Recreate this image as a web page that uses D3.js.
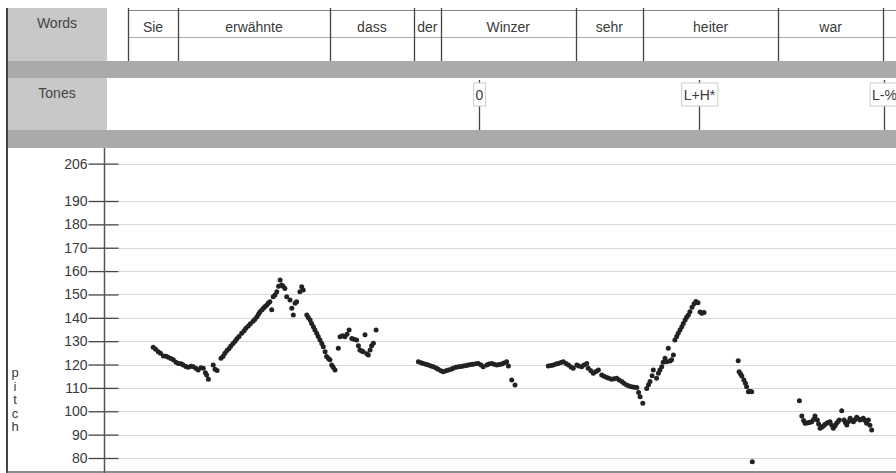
<!DOCTYPE html>
<html>
<head>
<meta charset="utf-8">
<script src="https://cdn.jsdelivr.net/npm/d3@7"></script>
<style>
  body { margin: 0; background: #fff; }
  svg { display: block; font-family: "Liberation Sans", Arial, sans-serif; }
</style>
</head>
<body>
<div id="chart"></div>
<script>
// word tier (times in ms)
const words = ["Sie", "erwähnte", "dass", "der", "Winzer", "sehr", "heiter", "war"];
const wordBounds = [80, 247, 753, 1033, 1123, 1572, 1797, 2247, 2597];

// tone tier
const tones = ["0", "L+H*", "L-%"];
const toneTimes = [1249, 1983, 2599];

const pitchTicks = [206, 190, 180, 170, 160, 150, 140, 130, 120, 110, 100, 90, 80];

// pitch track, one array per voiced stretch: [time ms, Hz]
const voicedA = [
  [164, 127.4], [172, 126.6], [181, 125.5], [188, 124.8], [198, 123.7], [207, 123.5],
  [214, 123.1], [223, 122.6], [231, 122], [240, 121], [248, 120.5], [257, 120.3],
  [264, 119.8], [273, 119.2], [281, 118.8], [290, 119.3], [298, 119.1], [307, 118.3],
  [314, 117.7], [323, 118.6], [331, 118.4], [338, 116.5], [342, 115.5], [348, 113.7],
  [364, 119.8], [370, 118], [377, 117.5],
  [390, 122.7], [397, 123.6], [403, 124.8], [410, 126], [417, 126.9], [423, 127.9],
  [430, 129], [437, 130], [443, 131], [450, 132], [459, 133.4], [467, 134.5],
  [473, 135.5], [481, 136.5], [488, 137.5], [497, 138.5], [503, 139.4], [510, 140.5],
  [515, 141.5], [520, 142.6], [527, 143.4], [532, 144.2], [537, 144.8], [543, 145.5],
  [548, 146.3], [553, 146.9], [559, 143.4], [564, 149], [570, 149.8], [576, 151.2],
  [582, 153.5], [587, 156.2], [592, 154], [597, 153.5], [603, 152.6], [609, 149],
  [620, 147.6], [626, 144.1], [631, 141.2], [637, 146.2], [642, 146.9], [653, 151.2],
  [659, 153.3], [664, 151.9],
  [676, 141.2], [681, 140.1], [687, 139.1], [692, 137.6], [698, 136.2], [703, 134.8],
  [709, 133.4], [714, 132], [720, 130.5], [726, 129], [731, 127.6], [737, 125.5],
  [742, 123.4], [748, 122.6], [753, 122], [759, 119.8], [764, 118.8], [770, 117.7],
  [781, 127], [787, 131.9], [795, 132.3], [803, 131.9], [810, 133], [817, 134.8],
  [826, 131.2], [833, 130.8], [842, 130.5], [848, 128], [853, 126.2], [859, 125.8],
  [864, 125.5], [870, 132.7], [876, 124.6], [881, 124.1], [887, 126.2], [892, 128],
  [898, 129.1], [907, 134.8]
];

const voicedB = [
  [1048, 121.2], [1057, 120.8], [1064, 120.5], [1073, 120.1], [1081, 119.8], [1090, 119.4],
  [1098, 119.1], [1107, 118.5], [1114, 118], [1123, 117.3], [1131, 116.9], [1140, 117.3],
  [1148, 117.7], [1157, 118], [1164, 118.4], [1173, 118.8], [1181, 119.1], [1190, 119.2],
  [1198, 119.4], [1207, 119.6], [1214, 119.8], [1223, 120], [1231, 120.1], [1240, 120.3],
  [1248, 120.5], [1257, 119.8], [1264, 119.1], [1276, 119.8], [1283, 120.2], [1292, 120.5],
  [1300, 120.1], [1309, 119.8], [1317, 120], [1326, 120.2], [1333, 120.7], [1342, 121.2],
  [1348, 119.4], [1359, 113.4], [1370, 111.2]
];

const voicedC = [
  [1481, 119.4], [1490, 119.6], [1498, 119.8], [1507, 120.2], [1514, 120.5], [1523, 120.9],
  [1531, 121.2], [1540, 120.5], [1548, 119.8], [1557, 119], [1564, 118.4], [1576, 119.8],
  [1583, 119.4], [1592, 119.1], [1600, 119.8], [1609, 120.5], [1614, 118.4], [1623, 117.3],
  [1631, 116.3], [1640, 117], [1648, 117.7], [1659, 115.5], [1667, 115], [1676, 114.5],
  [1683, 114.1], [1692, 113.7], [1700, 113.9], [1709, 114.1], [1717, 113.4], [1726, 112.7],
  [1733, 112], [1742, 111.2], [1750, 110.8], [1759, 110.5], [1767, 110.3], [1776, 110.2],
  [1782, 108], [1787, 106.2], [1796, 103.4], [1809, 109.8], [1815, 111.3], [1820, 112.7],
  [1827, 115.2], [1831, 117.7], [1842, 114.1], [1848, 116.3], [1853, 117.7], [1859, 119.1],
  [1864, 121], [1870, 122.7], [1876, 121.2], [1881, 127], [1887, 121.5], [1892, 122],
  [1898, 124.1], [1903, 130.5], [1909, 132], [1914, 133.4], [1920, 134.8], [1926, 136.2],
  [1931, 137.6], [1937, 139.1], [1942, 140.2], [1948, 141.2], [1953, 142.6], [1960, 144.5],
  [1967, 146], [1973, 147], [1980, 146.5], [1987, 142.5], [1993, 142], [2000, 142.3]
];

const voicedD = [
  [2114, 121.6], [2117, 116.9], [2122, 116], [2126, 115.1], [2133, 113.4], [2138, 112],
  [2142, 110.5], [2148, 108.4], [2153, 108.6], [2159, 108.4], [2161, 78.4]
];

const voicedE = [
  [2318, 104.5], [2326, 98], [2332, 96], [2337, 94.9], [2342, 95], [2348, 95.1],
  [2353, 95.3], [2359, 95.5], [2365, 96.5], [2370, 98], [2378, 96.3], [2382, 94.5],
  [2387, 92.7], [2392, 93.2], [2398, 93.7], [2403, 94.3], [2409, 94.9], [2414, 95.2],
  [2420, 95.5], [2426, 94], [2431, 92.7], [2437, 93.8], [2442, 94.9], [2447, 95.6],
  [2451, 96.3], [2459, 100.2], [2467, 96.3], [2471, 95.2], [2476, 94.1], [2481, 95.5],
  [2487, 97], [2492, 96.2], [2498, 95.5], [2503, 96.4], [2509, 97.4], [2514, 96.8],
  [2520, 96.3], [2526, 96.6], [2531, 97], [2537, 96], [2542, 94.9], [2548, 96.3],
  [2553, 94], [2559, 92]
];

const width = 896;
const height = 473;

const x = d3.scaleLinear().domain([0, 2640]).range([104, 896]);
const y = d3.scaleLinear().domain([80, 190]).range([458, 201]);

const svg = d3.select("#chart")
  .append("svg")
  .attr("width", width)
  .attr("height", height);

const textColor = "#3a3a3a";

// header rows
const rows = [
  { label: "Words", top: 8, bottom: 61 },
  { label: "Tones", top: 78, bottom: 130 },
];

svg.append("rect").attr("x", 8).attr("y", 61).attr("width", width - 8).attr("height", 17).attr("fill", "#aaaaaa");
svg.append("rect").attr("x", 8).attr("y", 130).attr("width", width - 8).attr("height", 18).attr("fill", "#aaaaaa");

rows.forEach((r) => {
  svg.append("rect")
    .attr("x", 8).attr("y", r.top)
    .attr("width", 99).attr("height", r.bottom - r.top)
    .attr("fill", "#c8c8c8");
  svg.append("rect")
    .attr("x", 107).attr("y", r.top)
    .attr("width", width - 107).attr("height", r.bottom - r.top)
    .attr("fill", "#fff");
  svg.append("text")
    .attr("x", 57).attr("y", r.top + 20)
    .attr("text-anchor", "middle")
    .attr("font-size", 14)
    .attr("fill", "#444")
    .text(r.label);
});

// word tier lines
const wordG = svg.append("g");
wordG.append("line")
  .attr("x1", x(wordBounds[0])).attr("x2", width)
  .attr("y1", 10.5).attr("y2", 10.5)
  .attr("stroke", "#888");
wordG.append("line")
  .attr("x1", x(wordBounds[0])).attr("x2", width)
  .attr("y1", 37.5).attr("y2", 37.5)
  .attr("stroke", "#aaa");
wordG.selectAll("line.sep")
  .data(wordBounds)
  .join("line")
  .attr("class", "sep")
  .attr("x1", (d) => Math.round(x(d)) + 0.5)
  .attr("x2", (d) => Math.round(x(d)) + 0.5)
  .attr("y1", 8).attr("y2", 61)
  .attr("stroke", "#444")
  .attr("stroke-width", 1.3);
wordG.selectAll("text")
  .data(words)
  .join("text")
  .attr("x", (d, i) => (x(wordBounds[i]) + x(wordBounds[i + 1])) / 2)
  .attr("y", 32)
  .attr("text-anchor", "middle")
  .attr("font-size", 14)
  .attr("fill", textColor)
  .text((d) => d);

// tone tier
const toneG = svg.append("g")
  .selectAll("g")
  .data(tones.map((t, i) => ({ label: t, time: toneTimes[i] })))
  .join("g")
  .attr("transform", (d) => `translate(${Math.round(x(d.time)) + 0.5},0)`);
toneG.append("line")
  .attr("y1", 80).attr("y2", 130)
  .attr("stroke", "#444")
  .attr("stroke-width", 1.3);
const toneText = toneG.append("text")
  .attr("y", 100)
  .attr("text-anchor", "middle")
  .attr("font-size", 14)
  .attr("fill", textColor)
  .text((d) => d.label);
toneText.each(function () {
  const b = this.getBBox();
  d3.select(this.parentNode)
    .insert("rect", "text")
    .attr("x", b.x - 2).attr("y", 83)
    .attr("width", b.width + 4).attr("height", 23)
    .attr("fill", "#fff")
    .attr("stroke", "#ccc");
});

// plot grid
svg.append("g")
  .selectAll("line")
  .data(pitchTicks)
  .join("line")
  .attr("x1", 118).attr("x2", width)
  .attr("y1", (d) => Math.round(y(d)) + 0.5)
  .attr("y2", (d) => Math.round(y(d)) + 0.5)
  .attr("stroke", "#d9d9d9");

// y axis
const yAxis = svg.append("g")
  .attr("transform", "translate(104.5,0)")
  .call(d3.axisLeft(y).tickValues(pitchTicks).tickSize(16).tickPadding(1).tickSizeOuter(0));
yAxis.select(".domain").remove();
yAxis.selectAll(".tick line")
  .attr("x2", -16).attr("x1", 14)
  .attr("stroke", "#444")
  .attr("stroke-width", 1.3);
yAxis.selectAll(".tick text")
  .attr("font-size", 14)
  .attr("font-family", "Liberation Sans, Arial, sans-serif")
  .attr("fill", textColor);
svg.append("line")
  .attr("x1", 104.5).attr("x2", 104.5)
  .attr("y1", 148).attr("y2", height)
  .attr("stroke", "#555")
  .attr("stroke-width", 1.5);

// vertical axis title
svg.append("g")
  .selectAll("text")
  .data("pitch".split(""))
  .join("text")
  .attr("x", 15)
  .attr("y", (d, i) => 377 + i * 13.5)
  .attr("text-anchor", "middle")
  .attr("font-size", 13)
  .attr("fill", textColor)
  .text((d) => d);

// pitch points
const track = [voicedA, voicedB, voicedC, voicedD, voicedE].flat();
svg.append("g")
  .selectAll("circle")
  .data(track)
  .join("circle")
  .attr("cx", (d) => x(d[0]))
  .attr("cy", (d) => y(d[1]))
  .attr("r", 2.5)
  .attr("fill", "#222");

// frame
svg.append("line")
  .attr("x1", 7).attr("x2", 7)
  .attr("y1", 8).attr("y2", height)
  .attr("stroke", "#444").attr("stroke-width", 2);
svg.append("line")
  .attr("x1", 7).attr("x2", width)
  .attr("y1", 472).attr("y2", 472)
  .attr("stroke", "#666").attr("stroke-width", 1.5);
</script>
</body>
</html>
